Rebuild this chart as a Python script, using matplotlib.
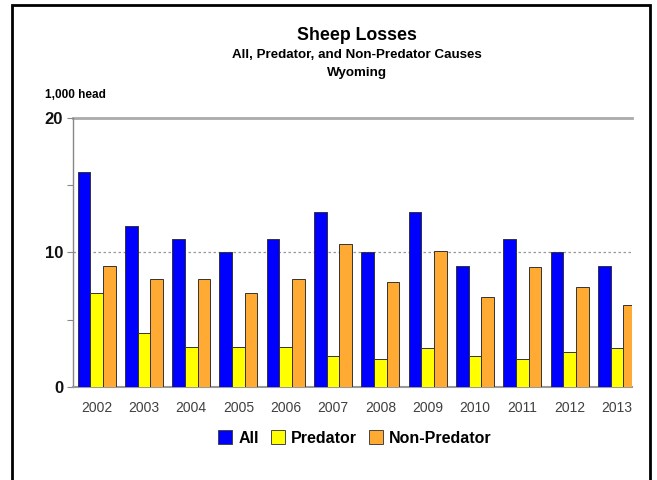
import numpy as np
import matplotlib
matplotlib.use("Agg")
import matplotlib.pyplot as plt
from matplotlib.patches import Rectangle, Patch

plt.rcParams['font.family'] = ['Liberation Sans', 'DejaVu Sans']

# 1,000 head of sheep lost, Wyoming
years = ['2002', '2003', '2004', '2005', '2006', '2007',
         '2008', '2009', '2010', '2011', '2012', '2013']
all_losses = [16, 12, 11, 10, 11, 13, 10, 13, 9, 11, 10, 9]
predator = [7, 4, 3, 3, 3, 2.3, 2.1, 2.9, 2.3, 2.1, 2.6, 2.9]
non_predator = [9, 8, 8, 7, 8, 10.6, 7.8, 10.1, 6.7, 8.9, 7.4, 6.1]

series = ['All', 'Predator', 'Non-Predator']
colors = ['#0000FF', '#FFFF00', '#FFAA33']

fig = plt.figure(figsize=(6.57, 4.80), dpi=100)
ax = fig.add_axes([0.111, 0.194, 0.851, 0.560])

x = np.arange(len(years))
w = 0.268
for k, vals in enumerate([all_losses, predator, non_predator]):
    ax.bar(x + (k - 1) * w, vals, width=w, color=colors[k],
           edgecolor='#333333', linewidth=0.7, zorder=3)

ax.set_xlim(-0.5, 11.32)
ax.set_ylim(0, 20)
ax.set_yticks([0, 10, 20])
ax.set_yticks([5, 15], minor=True)
ax.set_yticklabels(['0', '10', '20'], fontsize=12, fontweight='bold', color='#111111')
ax.tick_params(axis='y', which='both', length=4, width=0.8, color='#888888', pad=3)
ax.set_xticks(x)
ax.set_xticklabels(years, fontsize=10, color='#404040')
ax.tick_params(axis='x', length=0, pad=10)

# gridlines
ax.axhline(10, color='#999999', linestyle=(0, (2, 2)), linewidth=0.9, zorder=1)
ax.axhline(20, color='#aaaaaa', linewidth=2, zorder=1, clip_on=False)

for side in ['top', 'right']:
    ax.spines[side].set_visible(False)
ax.spines['left'].set_color('#888888')
ax.spines['left'].set_linewidth(1)
ax.spines['bottom'].set_color('#999999')
ax.spines['bottom'].set_linewidth(1.5)

# titles
cx = 357 / 657
fig.text(cx, 1 - 35 / 480, 'Sheep Losses', ha='center', va='center',
         fontsize=12.8, fontweight='bold')
fig.text(cx, 1 - 55 / 480, 'All, Predator, and Non-Predator Causes',
         ha='center', va='center', fontsize=9.6, fontweight='bold')
fig.text(cx, 1 - 73 / 480, 'Wyoming', ha='center', va='center',
         fontsize=9.6, fontweight='bold')
fig.text(45 / 657, 1 - 95 / 480, '1,000 head', ha='left', va='center',
         fontsize=8.5, fontweight='bold')

# legend
handles = [Patch(facecolor=c, edgecolor='#444444', linewidth=0.7) for c in colors]
fig.legend(handles, series, loc='center', bbox_to_anchor=(355 / 657, 1 - 438 / 480),
           ncol=3, frameon=False, prop={'weight': 'bold', 'size': 11.5},
           handlelength=0.9, handleheight=0.9, handletextpad=0.4, columnspacing=0.7)

# outer frame
fig.patches.append(Rectangle((12 / 657, -0.02), (650 - 12) / 657, 1.02 - 5 / 480,
                             transform=fig.transFigure, fill=False,
                             edgecolor='black', linewidth=2))

fig.savefig('out.png', dpi=100)
